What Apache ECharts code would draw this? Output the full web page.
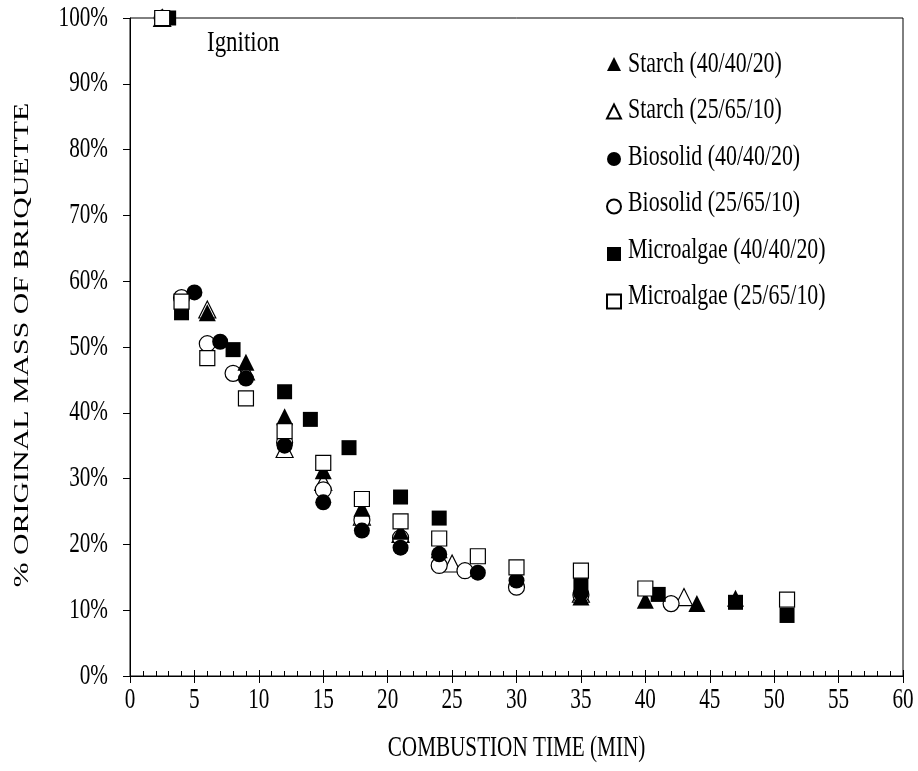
<!DOCTYPE html>
<html>
<head>
<meta charset="utf-8">
<script src="https://cdn.jsdelivr.net/npm/echarts@6/dist/echarts.min.js"></script>
<style>html,body{margin:0;padding:0;background:#fff;}#c{width:918px;height:771px;}</style>
</head>
<body>
<div id="c"></div>
<script>
const xTicks = [0,5,10,15,20,25,30,35,40,45,50,55,60];
const yTicks = [0,10,20,30,40,50,60,70,80,90,100];
const seriesNames = ['Starch (40/40/20)','Starch (25/65/10)','Biosolid (40/40/20)','Biosolid (25/65/10)','Microalgae (40/40/20)','Microalgae (25/65/10)'];
const xTitle = 'COMBUSTION TIME (MIN)';
const yTitle = '% ORIGINAL MASS OF BRIQUETTE';
const note = 'Ignition';

const starch40 = [[2.5,100],[6,55.2],[9,47.7],[12,39.4],[15,31.2],[18,25.5],[21,22.0],[24,19.2],[35,12.0],[40,11.5],[44,11.0],[47,11.8]];
const starch25 = [[2.5,100],[6,55.7],[9,46.3],[12,34.5],[15,29.5],[18,24.2],[21,21.6],[25,17.1],[35,12.5],[43,12.0]];
const biosolid40 = [[2.5,100],[5,58.3],[7,50.8],[9,45.2],[12,35.0],[15,26.4],[18,22.1],[21,19.5],[24,18.5],[27,15.7],[30,14.5],[35,12.6]];
const biosolid25 = [[2.5,100],[4,57.5],[6,50.5],[8,46.0],[12,35.5],[15,28.3],[18,23.7],[21,21.0],[24,16.8],[26,16.0],[30,13.5],[35,12.3],[42,11.0]];
const micro40 = [[3,100],[4,55.2],[8,49.6],[12,43.2],[14,39.0],[17,34.7],[21,27.2],[24,24.0],[35,13.8],[41,12.4],[47,11.2],[51,9.2]];
const micro25 = [[2.5,100],[4,56.9],[6,48.3],[9,42.2],[12,37.2],[15,32.4],[18,26.9],[21,23.5],[24,20.9],[27,18.2],[30,16.5],[35,16.0],[40,13.3],[51,11.6]];

const FONTNAME = '"Liberation Serif", "Times New Roman", serif';
const FS = 29;          // glyph height in px
const SQ = 0.73;        // horizontal condensation of the glyphs
const chart = echarts.init(document.getElementById('c'), null, {renderer:'canvas'});

function mk(name, data, symbol, filled, size){
  return {
    name, type:'scatter', data, symbol, symbolSize:size,
    itemStyle:{color: filled ? '#000' : '#fff', borderColor:'#000', borderWidth: filled ? 0 : 1.2, opacity:1},
    emphasis:{disabled:true}
  };
}

chart.setOption({
  animation:false,
  backgroundColor:'#fff',
  grid:{left:130, right:15, top:18, bottom:95, show:true, borderColor:'#000', borderWidth:1, containLabel:false},
  legend:{
    data:seriesNames, orient:'vertical', left:601, top:52, itemWidth:14, itemHeight:14, itemGap:32.5,
    formatter: () => '',
    textStyle:{fontSize:10, color:'#000'},
    selectedMode:false
  },
  xAxis:[{
    type:'value', min:0, max:60, interval:5, position:'bottom',
    axisLine:{show:true, onZero:false, lineStyle:{color:'#000', width:1}},
    axisTick:{show:true, inside:false, length:7, lineStyle:{color:'#000'}},
    axisLabel:{show:false},
    splitLine:{show:false}
  },{
    type:'value', min:0, max:60, interval:5, position:'bottom',
    axisLine:{show:false, onZero:false},
    axisTick:{show:true, inside:true, length:6, lineStyle:{color:'#000'}},
    minorTick:{show:true, splitNumber:5, length:5, lineStyle:{color:'#000'}},
    axisLabel:{show:false}, splitLine:{show:false}
  }],
  yAxis:{
    type:'value', min:0, max:100, interval:10,
    axisLine:{show:true, lineStyle:{color:'#000', width:1}},
    axisTick:{show:true, inside:false, length:7, lineStyle:{color:'#000'}},
    axisLabel:{show:false},
    splitLine:{show:false}
  },
  series:[
    mk(seriesNames[1], starch25, 'triangle', false, 17),
    mk(seriesNames[3], biosolid25, 'circle', false, 16),
    mk(seriesNames[0], starch40, 'triangle', true, 17),
    mk(seriesNames[2], biosolid40, 'circle', true, 16),
    mk(seriesNames[4], micro40, 'rect', true, 15),
    mk(seriesNames[5], micro25, 'rect', false, 15)
  ]
});

// text drawn as condensed serif glyphs, positioned through the axes' own scales
function txt(text, x, y, align, vAlign, opts){
  return Object.assign({
    type:'text', x, y, scaleX:SQ, silent:true, z:10,
    style:{text, font: FS + 'px ' + FONTNAME, fill:'#000', textAlign:align, textVerticalAlign:vAlign}
  }, opts || {});
}
const g = [];
xTicks.forEach(v => {
  const p = chart.convertToPixel({xAxisIndex:0, yAxisIndex:0}, [v, 0]);
  g.push(txt(String(v), p[0], p[1] + 24, 'center', 'middle'));
});
yTicks.forEach(v => {
  const p = chart.convertToPixel({xAxisIndex:0, yAxisIndex:0}, [0, v]);
  g.push(txt(v + '%', p[0] - 22, p[1], 'right', 'middle'));
});
{
  const a = chart.convertToPixel({xAxisIndex:0, yAxisIndex:0}, [30, 0]);
  g.push(txt(xTitle, a[0] - 0, a[1] + 72, 'center', 'middle'));
  const b = chart.convertToPixel({xAxisIndex:0, yAxisIndex:0}, [0, 50]);
  g.push(txt(yTitle, b[0] - 108, b[1] - 2, 'center', 'middle', {scaleX:1.03, scaleY:SQ, rotation:Math.PI/2}));
  const c = chart.convertToPixel({xAxisIndex:0, yAxisIndex:0}, [6, 96]);
  g.push(txt(note, 207, c[1] - 1, 'left', 'middle', {scaleX:0.79}));
}
seriesNames.forEach((n, i) => {
  g.push(txt(n, 628, 64 + 46.5 * i, 'left', 'middle', {scaleX:0.755}));
});
chart.setOption({graphic: g});
</script>
</body>
</html>
